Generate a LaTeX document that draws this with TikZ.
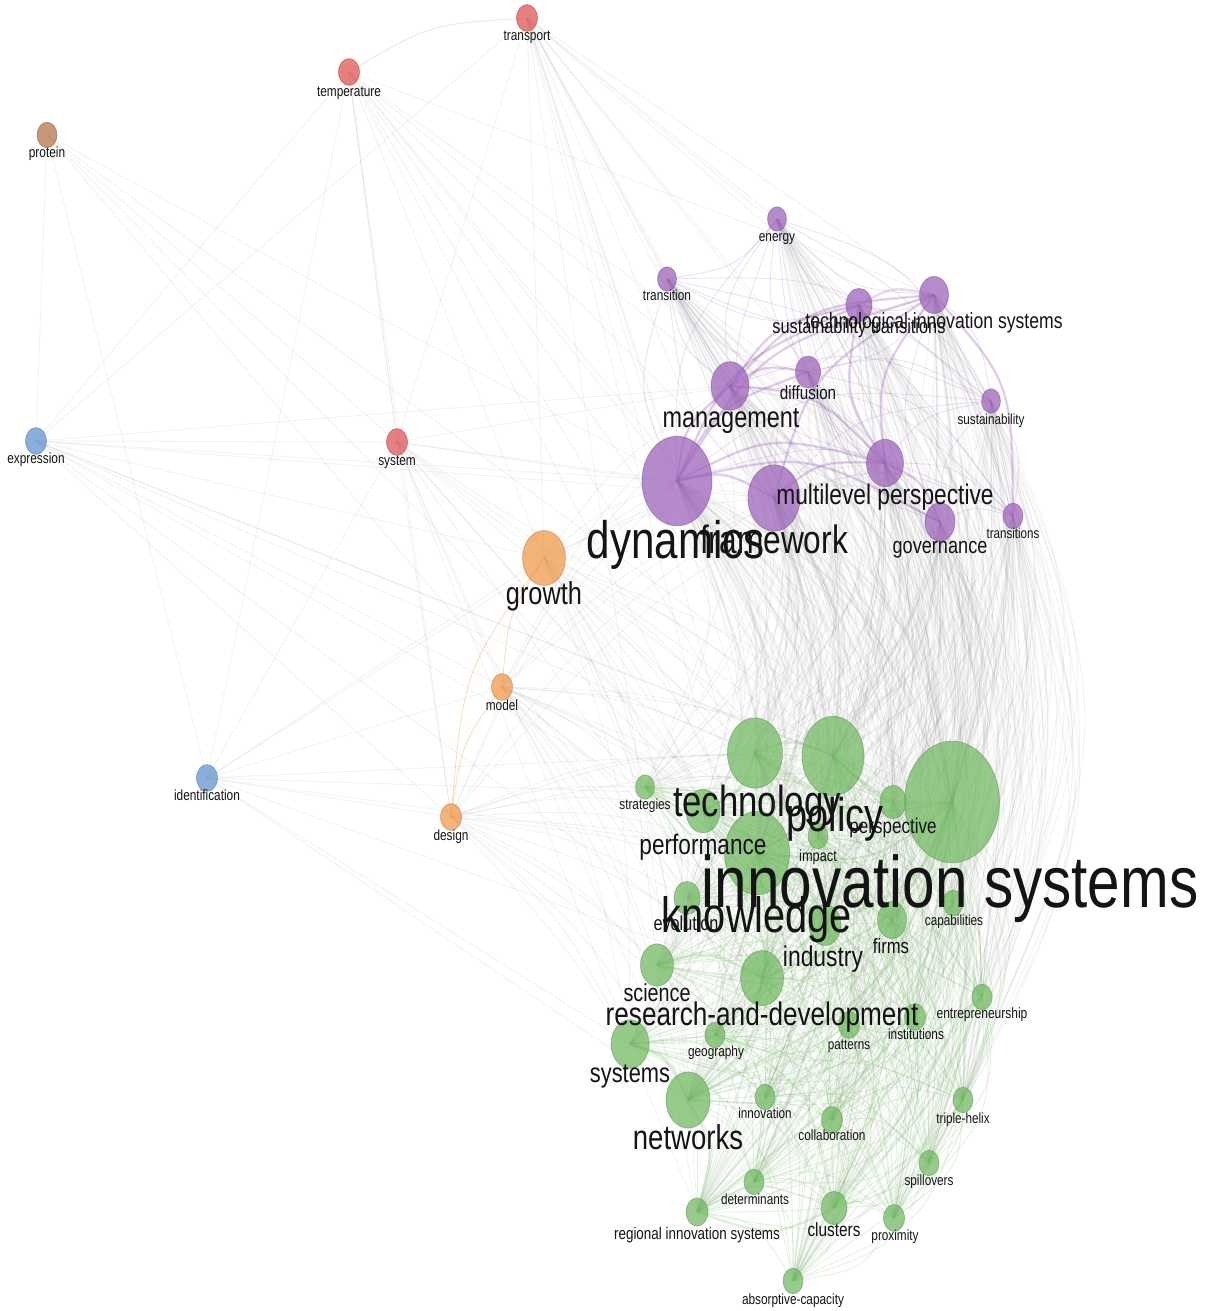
\documentclass[tikz,border=0pt]{standalone}
\usepackage{fontspec}
\newfontfamily\lbl[FakeStretch=0.8]{Liberation Sans}
\usetikzlibrary{shapes.geometric,calc}
\pgfdeclarelayer{bg}
\pgfsetlayers{bg,main}
\definecolor{cgreen}{RGB}{112,184,96}
\definecolor{cpurple}{RGB}{155,95,185}
\definecolor{corange}{RGB}{240,150,70}
\definecolor{cred}{RGB}{222,80,80}
\definecolor{cblue}{RGB}{95,145,205}
\definecolor{cbrown}{RGB}{178,115,72}
\definecolor{cpink}{RGB}{225,140,150}
\tikzset{
  bub/.style={ellipse, inner sep=0pt, minimum width=2*#1, minimum height=2.56*#1,
    fill opacity=0.72, draw opacity=0.45, line width=0.8pt},
  lab/.style={font=\lbl\fontsize{#1}{#1}\selectfont, text=black!92, inner sep=0pt,
    anchor=base, yshift=-0.26*#1},
  ledge/.style={draw=gray, draw opacity=0.11, line width=0.8pt},
  xedge/.style={draw=gray, draw opacity=0.10, line width=0.9pt},
  xthick/.style={draw=gray, draw opacity=0.12, line width=2.4pt},
  pedge/.style={draw=cpurple, draw opacity=0.20, line width=0.8pt},
  pthick/.style={draw=cpurple, draw opacity=0.22, line width=2.6pt},
  gredge/.style={draw=cgreen, draw opacity=0.20, line width=0.8pt},
  grthick/.style={draw=cgreen, draw opacity=0.22, line width=2.4pt},
  oedge/.style={draw=corange, draw opacity=0.35, line width=0.8pt},
  redge/.style={draw=cpink, draw opacity=0.28, line width=0.8pt},
}
% curved connector between two named nodes: style, from, to, angle
\newcommand\arcedge[4]{\draw[#1] (#2.center) .. controls ($(#2.center)!0.5!#4:(#3.center)$) .. (#3.center);}
\begin{document}
\begin{tikzpicture}[x=1pt,y=-1pt]
\useasboundingbox (0,0) rectangle (1209,1311);
% ---------- nodes ----------
\foreach \nm/\x/\y/\r/\c in {
  transport/527/18/10.5/cred, temperature/349/72/10.5/cred, system/397/442/10.5/cred,
  protein/47/135/10/cbrown, expression/36/441/10.5/cblue, identification/207/778/10.5/cblue,
  growth/544/558/21.5/corange, model/502/687/10.5/corange, design/451/817/10.5/corange,
  energy/777/219/9.5/cpurple, transition/667/279/9.5/cpurple, st/859/305/13/cpurple,
  tis/934/295/14.5/cpurple, diff/808/372/12.5/cpurple, mgmt/730/386/19/cpurple,
  sust/991/401/9.5/cpurple, dyn/677/481/35/cpurple, mlp/885/463/18.5/cpurple,
  fw/774/498/26/cpurple, gov/940/522/15/cpurple, transitions/1013/516/10/cpurple,
  innov/952/802/47.5/cgreen, tech/755/753/27.5/cgreen, pol/833/756/31/cgreen,
  strat/645/787/9.5/cgreen, perf/703/811/17/cgreen, know/757/853/32.5/cgreen,
  impact/818/836/10/cgreen, persp/893/802/13/cgreen, evol/687/898/13/cgreen,
  ind/825/925/16/cgreen, firms/892/920/14.5/cgreen, cap/953/903/10/cgreen,
  sci/657/965/16.5/cgreen, rd/762/978/21.5/cgreen, entre/982/997/10/cgreen,
  inst/915/1017/10.5/cgreen, patt/849/1025/10.5/cgreen, geo/715/1035/10/cgreen,
  sys/630/1044/19/cgreen, net/688/1100/22/cgreen, innovation/765/1097/10/cgreen,
  collab/832/1120/10.5/cgreen, triple/963/1100/10/cgreen, spill/929/1163/10/cgreen,
  determ/754/1182/10/cgreen, regional/697/1212/11/cgreen, clusters/834/1208/13/cgreen,
  prox/894/1218/10.5/cgreen, absorp/793/1281/10/cgreen}
  \node[bub=\r, fill=\c, draw=\c!75!black] (\nm) at (\x,\y) {};
% ---------- edges ----------
\def\plist{dyn,fw,mgmt,mlp,gov,tis,st,diff,energy,transition,sust,transitions}
\def\glist{innov,tech,pol,strat,perf,know,impact,persp,evol,ind,firms,cap,sci,rd,entre,inst,patt,geo,sys,net,innovation,collab,triple,spill,determ,regional,clusters,prox,absorp}
\begin{pgfonlayer}{bg}
\fill[white] (0,0) rectangle (1209,1311);
% left-side light lines
\foreach \a/\b in {
  transport/expression, transport/system, transport/dyn, transport/fw, transport/mgmt,
  transport/mlp, transport/energy, transport/transition, transport/tis, transport/st,
  transport/innov, transport/tech, transport/pol, transport/know, transport/rd,
  transport/growth, transport/gov, transport/sust, transport/ind, transport/net,
  temperature/identification, temperature/expression, temperature/dyn, temperature/fw,
  temperature/mgmt, temperature/mlp, temperature/innov, temperature/tech, temperature/pol,
  temperature/know, temperature/growth, temperature/design, temperature/tis,
  protein/expression, protein/identification, protein/system, protein/dyn, protein/innov,
  protein/know, protein/rd,
  expression/system, expression/growth, expression/dyn, expression/fw, expression/mgmt,
  expression/innov, expression/tech, expression/know, expression/pol, expression/rd,
  expression/model, expression/design,
  system/growth, system/dyn, system/fw, system/mgmt, system/model, system/design,
  system/innov, system/tech, system/pol, system/know, system/rd, system/net,
  system/identification, system/ind, system/sys,
  identification/design, identification/model, identification/growth, identification/dyn,
  identification/innov, identification/tech, identification/know, identification/rd,
  identification/sys, identification/net}
  \draw[ledge] (\a.center) -- (\b.center);
% orange-cluster lines to the right
\foreach \a in {growth,model,design}
  \foreach \b in {dyn,fw,mgmt,mlp,innov,tech,pol,know,ind,rd,net,sys,sci,perf,strat,evol,clusters,regional,geo,firms}
    {\arcedge{ledge}{\a}{\b}{10}}
\arcedge{oedge}{growth}{model}{-14}
\arcedge{oedge}{growth}{design}{-16}
\arcedge{oedge}{model}{design}{-14}
\arcedge{redge}{temperature}{transport}{14}
\draw[redge] (temperature.center) -- (system.center);
% cross-cluster gray edges
\foreach \a in \plist
  \foreach \b in \glist
    {\arcedge{xedge}{\a}{\b}{24}}
\foreach \a/\b in {dyn/innov, dyn/tech, dyn/pol, dyn/know, fw/innov, fw/pol, mgmt/innov,
  mgmt/tech, mlp/innov, tis/innov, st/innov, gov/innov, dyn/ind, dyn/rd, fw/tech, fw/know,
  mlp/pol, tis/pol, gov/pol, dyn/net}
  {\arcedge{xthick}{\a}{\b}{20}}
% purple cluster
\foreach \a [count=\i] in \plist {
  \foreach \b [count=\j] in \plist {
    \ifnum\i<\j\relax \arcedge{pedge}{\a}{\b}{22}\fi }}
\foreach \a/\b in {dyn/mgmt, dyn/mlp, dyn/tis, dyn/st, dyn/fw, dyn/diff, mgmt/tis, mgmt/st,
  mgmt/mlp, fw/mlp, fw/tis, mlp/tis, mlp/st, st/tis, mgmt/diff, tis/transitions, mlp/gov,
  dyn/gov}
  {\arcedge{pthick}{\a}{\b}{22}}
% green cluster
\foreach \a [count=\i] in \glist {
  \foreach \b [count=\j] in \glist {
    \ifnum\i<\j\relax \arcedge{gredge}{\a}{\b}{28}\fi }}
\foreach \a/\b in {innov/pol, innov/tech, innov/know, tech/pol, tech/know, pol/know,
  know/ind, know/rd, innov/rd, innov/net, innov/ind, rd/net, sys/net, innov/clusters,
  innov/regional, know/net, tech/perf, sci/rd, net/regional, clusters/regional}
  {\arcedge{grthick}{\a}{\b}{24}}
\end{pgfonlayer}
% ---------- labels ----------
\foreach \nm/\x/\y/\s/\t in {
  transport/527/37/14.8/transport, temperature/349/93/14.8/temperature,
  system/397/462/14.8/system, protein/47/154/14.8/protein,
  expression/36/460/14.8/expression, identification/207/797/14.8/identification,
  growth/544/596/31.7/growth, model/502/707/14.8/model, design/451/837/14.8/design,
  energy/777/238/14.8/energy, transition/667/297/14.8/transition,
  st/859/328/20.5/sustainability transitions,
  tis/934/323/22/technological innovation systems,
  diff/808/395/19/diffusion, mgmt/731/420/29.3/management,
  sust/991/421/14.6/sustainability, mlp/885/497/28.4/multilevel perspective,
  dyn/676/545/52.7/dynamics, fw/774/543/39.6/framework,
  gov/940/548/22.7/governance, transitions/1013/535/14.5/transitions,
  strat/645/806/14.8/strategies, tech/757/805/43.4/technology,
  pol/835/819/47.4/policy, persp/893/828/21.3/perspective,
  perf/703/847/28.3/performance, impact/818/857/16/impact,
  innov/950/889/73/innovation systems, know/757/920/49.7/knowledge,
  evol/686/925/20.3/evolution, cap/954/922/14.7/capabilities,
  firms/891/948/20.8/firms, ind/823/959/28.6/industry,
  sci/657/995/24.7/science, rd/762/1017/32.7/research-and-development,
  entre/982/1015/15/entrepreneurship, inst/916/1036/14.8/institutions,
  patt/849/1046/14.6/patterns, geo/716/1053/14.8/geography,
  sys/630/1075/27.3/systems, innovation/765/1115/14.6/innovation,
  triple/963/1120/14.6/triple-helix, collab/832/1137/14.8/collaboration,
  net/688/1141/34.4/networks, spill/929/1182/14.7/spillovers,
  determ/755/1201/14.7/determinants, regional/697/1235/16.8/regional innovation systems,
  clusters/834/1231/19.2/clusters, prox/895/1237/14.7/proximity,
  absorp/793/1301/14.8/absorptive-capacity}
  \node[lab=\s] (l-\nm) at (\x,\y) {\t};
\end{tikzpicture}
\end{document}
